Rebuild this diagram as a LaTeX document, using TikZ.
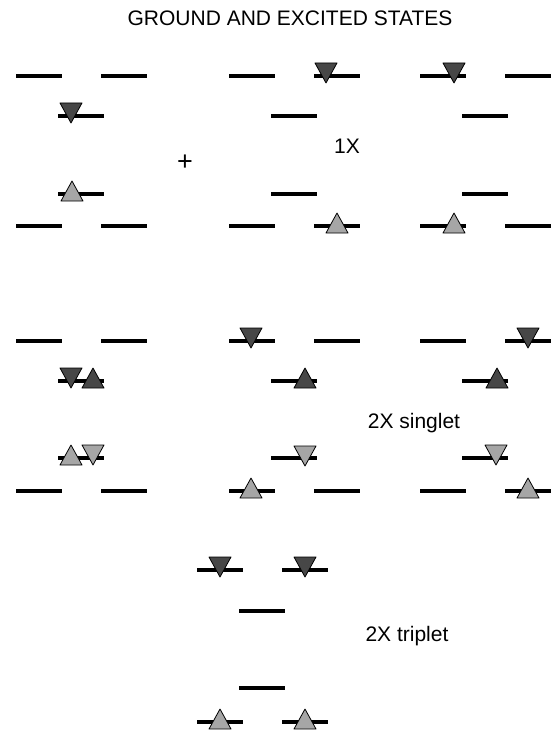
\documentclass[tikz,border=0pt]{standalone}
\usepackage{fontspec}
\setmainfont{Liberation Sans}
\usepackage{tikz}

\begin{document}
\begin{tikzpicture}[x=1pt,y=-1pt,
        level/.style={line width=3.5pt},
        darkspin/.style={draw=black,line width=.8pt,fill=black!72,line join=round},
        lightspin/.style={draw=black,line width=.8pt,fill=black!35,line join=round},
        lbl/.style={font=\fontsize{21}{24}\selectfont,inner sep=0pt}]
        \useasboundingbox (0,0) rectangle (554,733);
        \node[lbl] (title) at (290,18){GROUND AND EXCITED STATES};

        % levels: outer pair up, middle pair, outer pair down
        \foreach \cx/\ya/\yb/\yc/\yd in {81/76/116/194/226,294/76/116/194/226,485/76/116/194/226,
                                        81/341/381/458/491,294/341/381/458/491,485/341/381/458/491,
                                        262/570/611/688/722}
        {
            \draw[level] ({\cx-65},\ya)--({\cx-19},\ya) ({\cx+20},\ya)--({\cx+66},\ya);
            \draw[level] ({\cx-23},\yb)--({\cx+23},\yb);
            \draw[level] ({\cx-23},\yc)--({\cx+23},\yc);
            \draw[level] ({\cx-65},\yd)--({\cx-19},\yd) ({\cx+20},\yd)--({\cx+66},\yd);
        }

        % spins
        \foreach \x/\y in {71/116,326/76,454/76,71/381,251/341,528/341,220/570,305/570}
        {
            \draw[darkspin] ({\x-11},{\y-13})--({\x+11},{\y-13})--(\x,{\y+7})--cycle;
        }
        \foreach \x/\y in {93/381,305/381,497/381}
        {
            \draw[darkspin] ({\x-11},{\y+7})--({\x+11},{\y+7})--(\x,{\y-13})--cycle;
        }
        \foreach \x/\y in {72/194,337/226,454/226,71/458,251/491,528/491,220/722,305/722}
        {
            \draw[lightspin] ({\x-11},{\y+7})--({\x+11},{\y+7})--(\x,{\y-13})--cycle;
        }
        \foreach \x/\y in {93/458,305/459,496/458}
        {
            \draw[lightspin] ({\x-11},{\y-13})--({\x+11},{\y-13})--(\x,{\y+7})--cycle;
        }

        \node[lbl,font=\fontsize{27}{30}\selectfont] (plus) at (185,163){+};
        \node[lbl] (onex) at (347,146){1X};
        \node[lbl] (singlet) at (414,423){2X singlet};
        \node[lbl] (triplet) at (407,636){2X triplet};
\end{tikzpicture}
\end{document}
